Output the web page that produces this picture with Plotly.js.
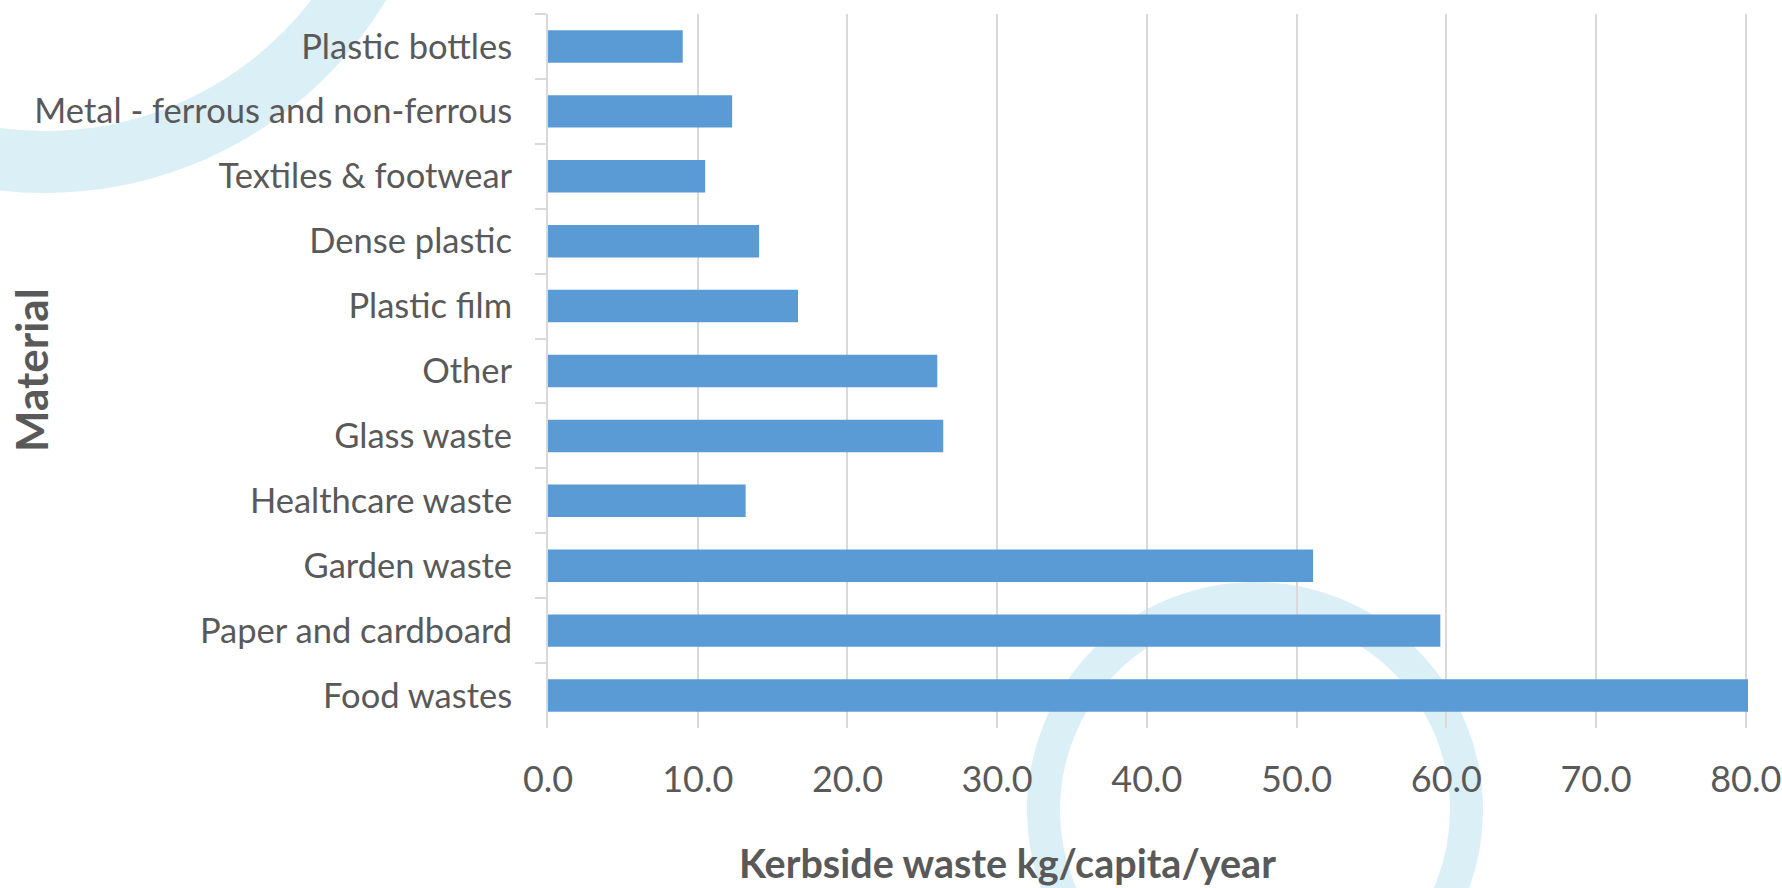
<!DOCTYPE html>
<html>
<head>
<meta charset="utf-8">
<script src="https://cdn.plot.ly/plotly-3.0.1.min.js"></script>
<style>html,body{margin:0;padding:0;background:#fff;}#chart{width:1782px;height:888px;}</style>
</head>
<body>
<div id="chart"></div>
<script>
// ---- data ----
const categories = [
  "Plastic bottles",
  "Metal - ferrous and non-ferrous",
  "Textiles & footwear",
  "Dense plastic",
  "Plastic film",
  "Other",
  "Glass waste",
  "Healthcare waste",
  "Garden waste",
  "Paper and cardboard",
  "Food wastes"
];
const values = [9.0, 12.3, 10.5, 14.1, 16.7, 26.0, 26.4, 13.2, 51.1, 59.6, 80.15];
const xTickValues = [0, 10, 20, 30, 40, 50, 60, 70, 80];
const xTickLabels = ["0.0", "10.0", "20.0", "30.0", "40.0", "50.0", "60.0", "70.0", "80.0"];
const xTitle = "Kerbside waste kg/capita/year";
const yTitle = "Material";

// ---- layout helpers (pixel geometry) ----
const W = 1782, H = 888;
const M = {l: 548, r: 34, t: 14, b: 160};
const PW = W - M.l - M.r, PH = H - M.t - M.b;
const px = x => (x - M.l) / PW;
const py = y => 1 - (y - M.t) / PH;
const textColor = "#595959";
const gridColor = "#d9d9d9";
const ringColor = "rgb(218,239,246)";

function ring(cx, cy, rOuter, rInner) {
  const r = (rOuter + rInner) / 2;
  return {
    type: "circle", xref: "paper", yref: "paper",
    xsizemode: "pixel", ysizemode: "pixel",
    xanchor: px(cx), yanchor: py(cy),
    x0: -r, x1: r, y0: -r, y1: r,
    line: {color: ringColor, width: rOuter - rInner},
    fillcolor: "rgba(0,0,0,0)", layer: "below"
  };
}

const trace = {
  type: "bar",
  orientation: "h",
  y: categories,
  x: values,
  marker: {color: "#5b9bd5"},
  hoverinfo: "x+y"
};

const layout = {
  width: W, height: H,
  margin: M,
  paper_bgcolor: "#ffffff",
  plot_bgcolor: "rgba(0,0,0,0)",
  showlegend: false,
  bargap: 0.5,
  font: {family: "Lato, 'Open Sans', sans-serif", color: textColor},
  xaxis: {
    range: [0, 80.15],
    tickmode: "array",
    tickvals: xTickValues,
    ticktext: xTickLabels,
    showgrid: true, gridcolor: gridColor, gridwidth: 2,
    zeroline: false, showline: false, ticks: "",
    ticklabelstandoff: 27,
    tickfont: {family: "Lato", size: 36, color: textColor},
    fixedrange: true
  },
  yaxis: {
    type: "category",
    categoryorder: "array",
    categoryarray: categories,
    autorange: "reversed",
    showgrid: false, zeroline: false,
    showline: true, linecolor: gridColor, linewidth: 2,
    ticks: "outside", tickson: "boundaries", ticklen: 11, tickwidth: 2, tickcolor: gridColor,
    ticklabelstandoff: 27,
    tickfont: {family: "Lato", size: 34.5, color: textColor},
    fixedrange: true
  },
  shapes: [
    ring(45, -205, 398, 336),
    ring(1255, 810, 228, 195)
  ],
  annotations: [
    {
      text: xTitle, xref: "paper", yref: "paper",
      x: px(1007), y: py(862), xanchor: "center", yanchor: "middle",
      showarrow: false,
      font: {family: "Lato", size: 39.5, weight: 700, color: textColor}
    },
    {
      text: yTitle, xref: "paper", yref: "paper",
      x: px(31), y: py(370), xanchor: "center", yanchor: "middle",
      textangle: -90, showarrow: false,
      font: {family: "Lato", size: 44, weight: 700, color: textColor}
    }
  ]
};

Plotly.newPlot("chart", [trace], layout, {displayModeBar: false, staticPlot: true});
</script>
</body>
</html>
